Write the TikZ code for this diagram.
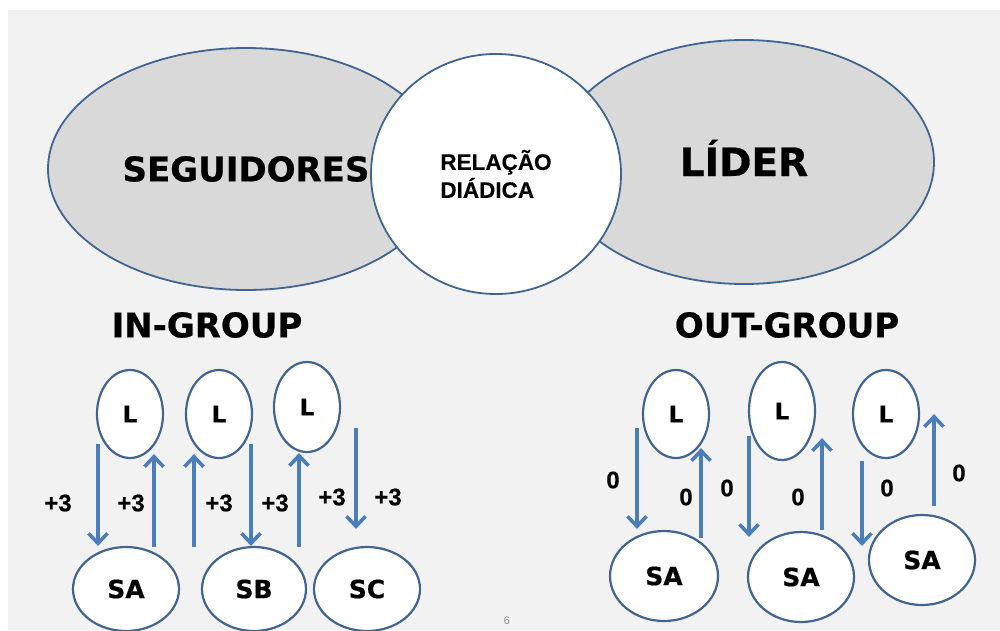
\documentclass[tikz,border=0pt]{standalone}
\usepackage{fontspec}
\setmainfont{DejaVu Sans}[BoldFeatures={FakeBold=0.6}]
\newfontfamily\arialfont{Liberation Sans}[BoldFeatures={FakeBold=0.4}]
\usepackage{xcolor}
\usetikzlibrary{shapes.geometric,arrows.meta,calc}
\definecolor{slidegray}{RGB}{242,242,242}
\definecolor{blobgray}{RGB}{217,217,217}
\definecolor{rimblue}{RGB}{65,100,145}
\definecolor{flowblue}{RGB}{74,126,187}

\begin{document}
\begin{tikzpicture}[x=1pt,y=-1pt,
    blob/.style={ellipse,draw=rimblue,line width=1.8pt,fill=blobgray,inner sep=0pt},
    lnode/.style={ellipse,draw=rimblue,line width=2.2pt,fill=white,inner sep=0pt,
      minimum width=66,minimum height=88,font=\bfseries\fontsize{23}{23}\selectfont},
    snode/.style={lnode,minimum width=106,minimum height=84,
      font=\bfseries\fontsize{25}{25}\selectfont},
    flow/.style={draw=flowblue,line width=3.6pt,-{Straight Barb[length=10pt,width=19pt]}},
    score/.style={font=\arialfont\bfseries\fontsize{24}{24}\selectfont},
    grouptitle/.style={font=\bfseries\fontsize{34}{34}\selectfont}]
    \useasboundingbox (0,0) rectangle (1000,630);
    \fill[slidegray] (8,10) rectangle (1000,630);

    \node[blob,minimum width=396,minimum height=242,
      font=\bfseries\fontsize{34}{34}\selectfont] (seg) at (246,169) {SEGUIDORES};
    \node[blob,minimum width=380,minimum height=244,text height=28pt,text depth=0pt,
      font=\bfseries\fontsize{39}{39}\selectfont] (lider) at (744,162) {LÍDER};
    \node[ellipse,draw=rimblue,line width=1.8pt,fill=white,inner sep=0pt,
      minimum width=250,minimum height=240,align=left,
      font=\arialfont\bfseries\fontsize{22.5}{28}\selectfont] (dyad) at (496,174) {RELAÇÃO\\DIÁDICA};

    \node[grouptitle] (ingroup) at (207,325) {IN-GROUP};
    \node[grouptitle] (outgroup) at (787,325) {OUT-GROUP};

    \node[lnode] (L1) at (130,414) {L};
    \node[lnode] (L2) at (219,414) {L};
    \node[lnode,minimum height=90] (L3) at (307,407) {L};
    \node[snode] (SA) at (126,589) {SA};
    \node[snode,minimum width=104] (SB) at (254,589) {SB};
    \node[snode] (SC) at (367,589) {SC};

    \draw[flow] ($(L1.south)+(-32,-15)$) -- ($(SA.north)+(-28,0)$);
    \draw[flow] ($(SA.north)+(28,1)$) -- ($(L1.south)+(24,-5)$);
    \draw[flow] ($(SB.north)+(-60,1)$) -- ($(L2.south)+(-25,-5)$);
    \draw[flow] ($(L2.south)+(32,-15)$) -- ($(SB.north)+(-3,0)$);
    \draw[flow] ($(SB.north)+(45,1)$) -- ($(L3.south)+(-8,0)$);
    \draw[flow] ($(L3.south)+(49,-25)$) -- ($(SC.north)+(-11,-17)$);

    \node[score] (in1) at (58,503) {+3};
    \node[score] (in2) at (131,503) {+3};
    \node[score] (in3) at (219,503) {+3};
    \node[score] (in4) at (275,503) {+3};
    \node[score] (in5) at (332,497) {+3};
    \node[score] (in6) at (388,497) {+3};

    \node[lnode] (L4) at (676,414) {L};
    \node[lnode,minimum height=98] (L5) at (782,411) {L};
    \node[lnode] (L6) at (886,414) {L};
    \node[snode,minimum width=108,minimum height=90] (SA4) at (664,576) {SA};
    \node[snode,minimum height=90] (SA5) at (801,577) {SA};
    \node[snode,minimum height=90] (SA6) at (922,560) {SA};

    \draw[flow] ($(L4.south)+(-39,-31)$) -- ($(SA4.north)+(-27,-1)$);
    \draw[flow] ($(SA4.north)+(37,8)$) -- ($(L4.south)+(25,-11)$);
    \draw[flow] ($(L5.south)+(-33,-25)$) -- ($(SA5.north)+(-52,6)$);
    \draw[flow] ($(SA5.north)+(21,-1)$) -- ($(L5.south)+(40,-23)$);
    \draw[flow] ($(L6.south)+(-24,2)$) -- ($(SA6.north)+(-60,32)$);
    \draw[flow] ($(SA6.north)+(12,-8)$) -- ($(L6.south)+(48,-45)$);

    \node[score] (out1) at (613,480) {0};
    \node[score] (out2) at (686,497) {0};
    \node[score] (out3) at (727,488) {0};
    \node[score] (out4) at (798,497) {0};
    \node[score] (out5) at (887,488) {0};
    \node[score] (out6) at (959,473) {0};

    \node[font=\arialfont\fontsize{11}{11}\selectfont,text=black!45] (pageno) at (507,621) {6};
\end{tikzpicture}
\end{document}
